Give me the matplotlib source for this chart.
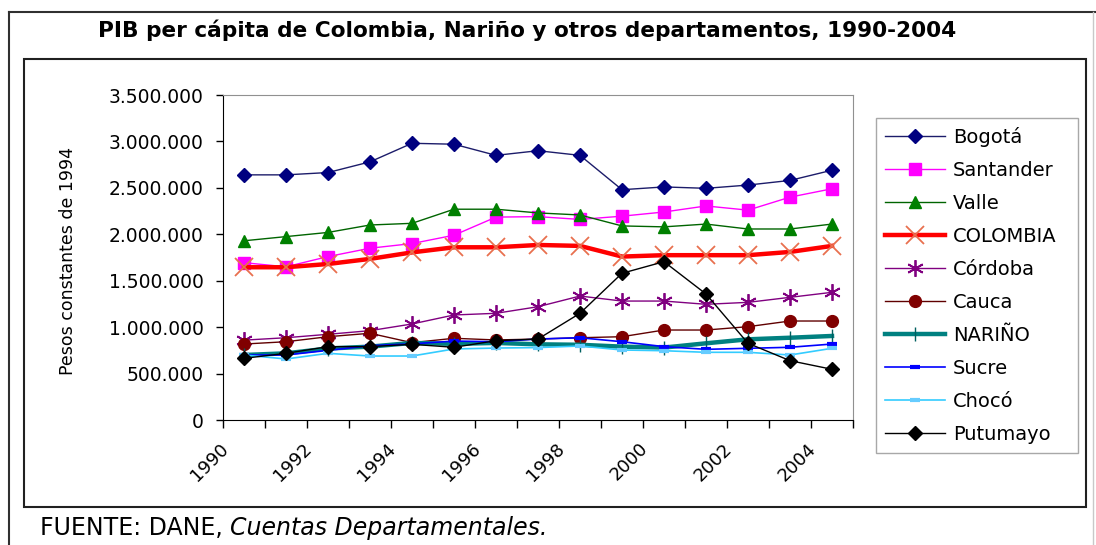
import matplotlib
matplotlib.use("Agg")
import matplotlib.pyplot as plt
from matplotlib.lines import Line2D
from matplotlib.patches import Rectangle
from matplotlib.ticker import FuncFormatter, MultipleLocator
from matplotlib.transforms import ScaledTranslation

plt.rcParams['font.family'] = ['DejaVu Sans']

years = list(range(1990, 2005))
year_labels = ["1990", "1992", "1994", "1996", "1998", "2000", "2002", "2004"]

bogota = [2640000, 2640000, 2665000, 2780000, 2980000, 2970000, 2850000, 2900000,
          2850000, 2480000, 2510000, 2495000, 2530000, 2580000, 2690000]
santander = [1694000, 1650000, 1760000, 1850000, 1900000, 1990000, 2185000, 2190000,
             2160000, 2195000, 2240000, 2305000, 2260000, 2400000, 2490000]
valle = [1930000, 1975000, 2020000, 2100000, 2118000, 2270000, 2270000, 2230000,
         2208000, 2090000, 2080000, 2110000, 2057000, 2057000, 2110000]
colombia = [1645000, 1645000, 1680000, 1735000, 1805000, 1860000, 1860000, 1885000,
            1875000, 1760000, 1775000, 1775000, 1775000, 1810000, 1875000]
cordoba = [860000, 886000, 923000, 962000, 1034000, 1131000, 1149000, 1220000,
           1335000, 1281000, 1281000, 1246000, 1267000, 1321000, 1375000]
cauca = [818000, 843000, 897000, 934000, 833000, 880000, 862000, 872000,
         886000, 897000, 969000, 969000, 1005000, 1066000, 1066000]
narino = [700000, 718000, 770000, 790000, 830000, 820000, 830000, 815000,
          810000, 790000, 780000, 826000, 869000, 886000, 905000]
sucre = [700000, 700000, 750000, 800000, 820000, 850000, 843000, 872000,
         886000, 843000, 790000, 761000, 772000, 783000, 818000]
choco = [700000, 657000, 718000, 689000, 689000, 765000, 775000, 780000,
         797000, 754000, 746000, 729000, 729000, 700000, 772000]
putumayo = [664000, 718000, 790000, 790000, 815000, 783000, 854000, 872000,
            1149000, 1580000, 1705000, 1357000, 826000, 639000, 546000]

W, H = 1096, 545
fig = plt.figure(figsize=(W / 100, H / 100), dpi=100)


def fx(px):
    return px / W


def fy(py):
    return 1 - py / H


ax = fig.add_axes([fx(223), fy(420), fx(853) - fx(223), fy(95) - fy(420)])

x = list(range(len(years)))

series = [
    ("Bogotá", bogota, dict(color='#1c1c6a', lw=1.0, marker='D', ms=7.5, mfc='#000080', mec='#000080')),
    ("Santander", santander, dict(color='#FF00FF', lw=1.0, marker='s', ms=8, mfc='#FF00FF', mec='#FF00FF')),
    ("Valle", valle, dict(color='#006400', lw=1.0, marker='^', ms=9, mfc='#008000', mec='#008000')),
    ("COLOMBIA", colombia, dict(color='#FF0000', lw=3.2, marker='x', ms=13, mec='#E8704F', mew=1.3)),
    ("Córdoba", cordoba, dict(color='#800080', lw=1.0, marker=(6, 2, 0), ms=12, mec='#800080', mew=1.3)),
    ("Cauca", cauca, dict(color='#600000', lw=1.0, marker='o', ms=8.5, mfc='#800000', mec='#800000')),
    ("NARIÑO", narino, dict(color='#008080', lw=3.2, marker='|', ms=10, mec='#006060', mew=1.0)),
    ("Sucre", sucre, dict(color='#0000FF', lw=1.2, marker='_', ms=7, mec='#0000FF', mew=3)),
    ("Chocó", choco, dict(color='#33CCFF', lw=1.2, marker='_', ms=7, mec='#66CCFF', mew=3)),
    ("Putumayo", putumayo, dict(color='#000000', lw=1.0, marker='D', ms=7.5, mfc='#000000', mec='#000000')),
]

handles = []
for name, vals, kw in series:
    h, = ax.plot(x, vals, label=name, **kw)
    handles.append(h)

ax.set_xlim(-0.5, 14.5)
ax.set_ylim(0, 3500000)
ax.yaxis.set_major_locator(MultipleLocator(500000))
ax.yaxis.set_major_formatter(FuncFormatter(lambda v, p: f"{int(round(v)):,}".replace(',', '.')))
ax.tick_params(axis='y', direction='out', length=5, width=1, pad=9, labelsize=13.5, colors='black')

ax.set_xticks([i - 0.5 for i in range(16)], minor=True)
ax.set_xticks(list(range(0, 15, 2)))
ax.set_xticklabels(year_labels, rotation=45, ha='right', va='top', rotation_mode='anchor')
ax.tick_params(axis='x', which='minor', direction='out', length=6, width=1)
ax.tick_params(axis='x', which='major', length=0, pad=14, labelsize=13)
offset = ScaledTranslation(-25 / 100, 0, fig.dpi_scale_trans)
for lab in ax.get_xticklabels():
    lab.set_transform(lab.get_transform() + offset)

ax.spines['left'].set_color('black')
ax.spines['bottom'].set_color('black')
ax.spines['top'].set_color('#909090')
ax.spines['right'].set_color('#909090')

fig.legend(handles=handles, loc='upper left',
           bbox_to_anchor=(fx(876), fy(448), fx(1078) - fx(876), fy(118) - fy(448)),
           bbox_transform=fig.transFigure, mode='expand', frameon=True, fancybox=False,
           shadow=False, edgecolor='#a8a8a8', fontsize=14, handlelength=3.1,
           handletextpad=0.4, labelspacing=0.72, borderpad=0.45, borderaxespad=0,
           framealpha=1)

fig.text(fx(527), fy(30), "PIB per cápita de Colombia, Nariño y otros departamentos, 1990-2004",
         ha='center', va='center', fontsize=15.6, fontweight='bold')
fig.text(fx(68), fy(261), "Pesos constantes de 1994", rotation=90, ha='center', va='center',
         fontsize=12.5)

t1 = fig.text(fx(40), fy(528), "FUENTE: DANE, ", ha='left', va='center', fontsize=17)
fig.canvas.draw()
bb = t1.get_window_extent()
fig.text(bb.x1 / W, fy(528), "Cuentas Departamentales.", ha='left', va='center',
         fontsize=17, style='italic')

# chart frames
fig.add_artist(Rectangle((fx(24), fy(507)), fx(1086) - fx(24), fy(59) - fy(507),
                         transform=fig.transFigure, fill=False, ec='#202020', lw=1.5))
fig.add_artist(Line2D([fx(9), fx(9)], [fy(12), 0], transform=fig.transFigure, color='#303030', lw=1.5))
fig.add_artist(Line2D([fx(9), 1], [fy(12), fy(12)], transform=fig.transFigure, color='#303030', lw=1.5))
fig.add_artist(Line2D([fx(1093), fx(1093)], [fy(12), 0], transform=fig.transFigure, color='#c8c8c8', lw=1.0))

fig.savefig("out.png", dpi=100)
